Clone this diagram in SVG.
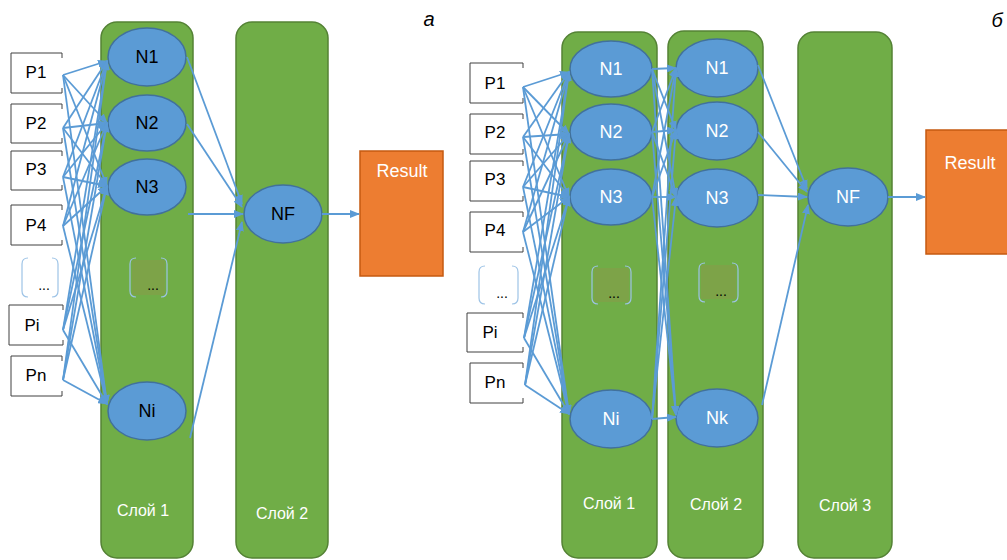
<svg xmlns="http://www.w3.org/2000/svg" width="1007" height="560" viewBox="0 0 1007 560">
<style>
.layer{fill:#70AD47;stroke:#548235;stroke-width:1.5}
.node{fill:#5B9BD5;stroke:#41719C;stroke-width:1.5}
.pbox{fill:#fff;stroke:#404040;stroke-width:1}
.brk{fill:none;stroke:#9DC3E6;stroke-width:1.2}
.res{fill:#ED7D31;stroke:#C55A11;stroke-width:1.5}
.c{stroke:#5B9BD5;stroke-width:1.8;fill:none;marker-end:url(#ah)}
text{font-family:"Liberation Sans",Arial,sans-serif}
.t{font-size:18px;text-anchor:middle;fill:#000}
.tp{font-size:17px;text-anchor:middle;fill:#000}
.tw{font-size:18px;text-anchor:middle;fill:#fff}
.lbl{font-size:16px;text-anchor:middle;fill:#fff}
.dots{font-size:14px;text-anchor:middle;fill:#000}
.let{font-size:20px;font-style:italic;fill:#000;text-anchor:middle}
</style>
<defs>
<marker id="ah" markerWidth="10" markerHeight="8" refX="9" refY="4" orient="auto" markerUnits="userSpaceOnUse"><path d="M0,0 L10,4 L0,8 z" fill="#5B9BD5"/></marker>
</defs>

<!-- ===== Diagram a ===== -->
<g id="a-layer1"><rect class="layer" x="101" y="22" width="92" height="536" rx="16"/><text class="lbl" x="143" y="516">Слой 1</text></g>
<g id="a-layer2"><rect class="layer" x="236" y="22" width="92" height="536" rx="16"/><text class="lbl" x="282" y="519">Слой 2</text></g>
<text class="let" x="429" y="26">а</text>

<g id="a-P1"><path class="pbox" d="M62,58 V53 H11 V93 H62 V88"/><text class="tp" x="36" y="78">P1</text></g>
<g id="a-P2"><path class="pbox" d="M62,109 V104 H11 V143 H62 V138"/><text class="tp" x="36" y="129">P2</text></g>
<g id="a-P3"><path class="pbox" d="M62,156 V151 H11 V190 H62 V185"/><text class="tp" x="36" y="175">P3</text></g>
<g id="a-P4"><path class="pbox" d="M62,210 V205 H11 V245 H62 V240"/><text class="tp" x="36" y="231">P4</text></g>
<g id="a-Pdots"><path class="brk" d="M28,258 Q22,258 22,264 V291 Q22,297 28,297 M52,258 Q58,258 58,264 V291 Q58,297 52,297"/><text class="dots" x="44" y="290">...</text></g>
<g id="a-Pi"><path class="pbox" d="M63,310 V305 H9 V345 H63 V340"/><text class="tp" x="32" y="331">Pi</text></g>
<g id="a-Pn"><path class="pbox" d="M62,361 V356 H11 V396 H62 V391"/><text class="tp" x="36" y="381">Pn</text></g>

<g id="a-N1"><ellipse class="node" cx="147" cy="57" rx="39" ry="29"/><text class="t" x="147" y="63">N1</text></g>
<g id="a-N2"><ellipse class="node" cx="147" cy="123" rx="39" ry="28"/><text class="t" x="147" y="129">N2</text></g>
<g id="a-N3"><ellipse class="node" cx="147" cy="187" rx="39" ry="28"/><text class="t" x="147" y="193">N3</text></g>
<g id="a-Ndots"><rect x="132" y="260" width="33" height="35" fill="#7DA348"/><path class="brk" d="M136,258 Q130,258 130,264 V291 Q130,297 136,297 M161,258 Q167,258 167,264 V291 Q167,297 161,297"/><text class="dots" x="153" y="290">...</text></g>
<g id="a-Ni"><ellipse class="node" cx="147" cy="411" rx="39" ry="29"/><text class="t" x="147" y="417">Ni</text></g>
<g id="a-NF"><ellipse class="node" cx="283" cy="214" rx="39" ry="29"/><text class="t" x="283" y="220">NF</text></g>
<g id="a-Result"><rect class="res" x="360" y="151" width="83" height="125"/><text class="tw" x="402" y="177">Result</text></g>

<g id="a-connectors">
<line class="c" x1="63" y1="75" x2="107" y2="61"/><line class="c" x1="63" y1="75" x2="107" y2="123"/><line class="c" x1="63" y1="75" x2="107" y2="186"/><line class="c" x1="63" y1="75" x2="107" y2="404"/>
<line class="c" x1="63" y1="128" x2="107" y2="61"/><line class="c" x1="63" y1="128" x2="107" y2="123"/><line class="c" x1="63" y1="128" x2="107" y2="186"/><line class="c" x1="63" y1="128" x2="107" y2="404"/>
<line class="c" x1="63" y1="177" x2="107" y2="61"/><line class="c" x1="63" y1="177" x2="107" y2="123"/><line class="c" x1="63" y1="177" x2="107" y2="186"/><line class="c" x1="63" y1="177" x2="107" y2="404"/>
<line class="c" x1="63" y1="226" x2="107" y2="61"/><line class="c" x1="63" y1="226" x2="107" y2="123"/><line class="c" x1="63" y1="226" x2="107" y2="186"/><line class="c" x1="63" y1="226" x2="107" y2="404"/>
<line class="c" x1="63" y1="330" x2="107" y2="61"/><line class="c" x1="63" y1="330" x2="107" y2="123"/><line class="c" x1="63" y1="330" x2="107" y2="186"/><line class="c" x1="63" y1="330" x2="107" y2="404"/>
<line class="c" x1="63" y1="380" x2="107" y2="61"/><line class="c" x1="63" y1="380" x2="107" y2="123"/><line class="c" x1="63" y1="380" x2="107" y2="186"/><line class="c" x1="63" y1="380" x2="107" y2="404"/>
<line class="c" x1="187" y1="57" x2="242" y2="204"/>
<line class="c" x1="187" y1="124" x2="242" y2="207"/>
<line class="c" x1="188" y1="214" x2="243" y2="214"/>
<line class="c" x1="190" y1="438" x2="242" y2="222"/>
<line class="c" x1="322" y1="214" x2="359" y2="214"/>
</g>

<!-- ===== Diagram b ===== -->
<g id="b-layer1"><rect class="layer" x="562" y="32" width="95" height="526" rx="16"/><text class="lbl" x="609" y="509">Слой 1</text></g>
<g id="b-layer2"><rect class="layer" x="668" y="31" width="95" height="527" rx="16"/><text class="lbl" x="716" y="510">Слой 2</text></g>
<g id="b-layer3"><rect class="layer" x="798" y="32" width="94" height="526" rx="16"/><text class="lbl" x="845" y="511">Слой 3</text></g>
<text class="let" x="997" y="27">б</text>

<g id="b-P1"><path class="pbox" d="M523,68 V63 H470 V103 H523 V98"/><text class="tp" x="495" y="89">P1</text></g>
<g id="b-P2"><path class="pbox" d="M523,119 V114 H470 V154 H523 V149"/><text class="tp" x="495" y="138">P2</text></g>
<g id="b-P3"><path class="pbox" d="M523,166 V161 H470 V201 H523 V196"/><text class="tp" x="495" y="185">P3</text></g>
<g id="b-P4"><path class="pbox" d="M523,217 V212 H470 V252 H523 V247"/><text class="tp" x="495" y="236">P4</text></g>
<g id="b-Pdots"><path class="brk" d="M485,266 Q479,266 479,272 V298 Q479,304 485,304 M512,266 Q518,266 518,272 V298 Q518,304 512,304"/><text class="dots" x="502" y="298">...</text></g>
<g id="b-Pi"><path class="pbox" d="M523,318 V313 H467 V352 H523 V347"/><text class="tp" x="490" y="338">Pi</text></g>
<g id="b-Pn"><path class="pbox" d="M523,368 V363 H470 V403 H523 V398"/><text class="tp" x="495" y="388">Pn</text></g>

<g id="b-L1-N1"><ellipse class="node" cx="611" cy="69" rx="41" ry="28"/><text class="tw" x="611" y="75">N1</text></g>
<g id="b-L1-N2"><ellipse class="node" cx="611" cy="132" rx="41" ry="28"/><text class="tw" x="611" y="138">N2</text></g>
<g id="b-L1-N3"><ellipse class="node" cx="611" cy="197" rx="41" ry="28"/><text class="tw" x="611" y="203">N3</text></g>
<g id="b-L1-Ndots"><rect x="594" y="268" width="35" height="34" fill="#7DA348"/><path class="brk" d="M598,266 Q592,266 592,272 V298 Q592,304 598,304 M625,266 Q631,266 631,272 V298 Q631,304 625,304"/><text class="dots" x="614" y="298">...</text></g>
<g id="b-L1-Ni"><ellipse class="node" cx="611" cy="419" rx="41" ry="29"/><text class="tw" x="611" y="425">Ni</text></g>

<g id="b-L2-N1"><ellipse class="node" cx="717" cy="68" rx="41" ry="29"/><text class="tw" x="717" y="74">N1</text></g>
<g id="b-L2-N2"><ellipse class="node" cx="717" cy="131" rx="41" ry="29"/><text class="tw" x="717" y="137">N2</text></g>
<g id="b-L2-N3"><ellipse class="node" cx="717" cy="198" rx="41" ry="29"/><text class="tw" x="717" y="204">N3</text></g>
<g id="b-L2-Ndots"><rect x="701" y="265" width="35" height="34" fill="#7DA348"/><path class="brk" d="M705,263 Q699,263 699,269 V296 Q699,302 705,302 M732,263 Q738,263 738,269 V296 Q738,302 732,302"/><text class="dots" x="721" y="296">...</text></g>
<g id="b-L2-Nk"><ellipse class="node" cx="717" cy="418" rx="41" ry="29"/><text class="tw" x="717" y="424">Nk</text></g>

<g id="b-NF"><ellipse class="node" cx="848" cy="197" rx="40" ry="29"/><text class="tw" x="848" y="203">NF</text></g>
<g id="b-Result"><rect class="res" x="926" y="130" width="90" height="124"/><text class="tw" x="970" y="169">Result</text></g>

<g id="b-connectors">
<line class="c" x1="523" y1="87" x2="569" y2="72"/><line class="c" x1="523" y1="87" x2="569" y2="134"/><line class="c" x1="523" y1="87" x2="569" y2="197"/><line class="c" x1="523" y1="87" x2="569" y2="414"/>
<line class="c" x1="523" y1="137" x2="569" y2="72"/><line class="c" x1="523" y1="137" x2="569" y2="134"/><line class="c" x1="523" y1="137" x2="569" y2="197"/><line class="c" x1="523" y1="137" x2="569" y2="414"/>
<line class="c" x1="523" y1="187" x2="569" y2="72"/><line class="c" x1="523" y1="187" x2="569" y2="134"/><line class="c" x1="523" y1="187" x2="569" y2="197"/><line class="c" x1="523" y1="187" x2="569" y2="414"/>
<line class="c" x1="523" y1="232" x2="569" y2="72"/><line class="c" x1="523" y1="232" x2="569" y2="134"/><line class="c" x1="523" y1="232" x2="569" y2="197"/><line class="c" x1="523" y1="232" x2="569" y2="414"/>
<line class="c" x1="524" y1="338" x2="569" y2="72"/><line class="c" x1="524" y1="338" x2="569" y2="134"/><line class="c" x1="524" y1="338" x2="569" y2="197"/><line class="c" x1="524" y1="338" x2="569" y2="414"/>
<line class="c" x1="525" y1="385" x2="569" y2="72"/><line class="c" x1="525" y1="385" x2="569" y2="134"/><line class="c" x1="525" y1="385" x2="569" y2="197"/><line class="c" x1="525" y1="385" x2="569" y2="414"/>

<line class="c" x1="652" y1="69" x2="676" y2="68"/><line class="c" x1="652" y1="69" x2="676" y2="130"/><line class="c" x1="652" y1="69" x2="676" y2="197"/><line class="c" x1="652" y1="69" x2="676" y2="415"/>
<line class="c" x1="652" y1="132" x2="676" y2="68"/><line class="c" x1="652" y1="132" x2="676" y2="130"/><line class="c" x1="652" y1="132" x2="676" y2="197"/><line class="c" x1="652" y1="132" x2="676" y2="415"/>
<line class="c" x1="652" y1="197" x2="676" y2="68"/><line class="c" x1="652" y1="197" x2="676" y2="130"/><line class="c" x1="652" y1="197" x2="676" y2="197"/><line class="c" x1="652" y1="197" x2="676" y2="415"/>
<line class="c" x1="652" y1="419" x2="676" y2="68"/><line class="c" x1="652" y1="419" x2="676" y2="130"/><line class="c" x1="652" y1="419" x2="676" y2="197"/><line class="c" x1="652" y1="419" x2="676" y2="417"/>

<line class="c" x1="758" y1="65" x2="807" y2="189"/>
<line class="c" x1="758" y1="132" x2="807" y2="192"/>
<line class="c" x1="758" y1="195" x2="807" y2="197"/>
<line class="c" x1="762" y1="405" x2="808" y2="205"/>
<line class="c" x1="888" y1="197" x2="925" y2="197"/>
</g>
</svg>
